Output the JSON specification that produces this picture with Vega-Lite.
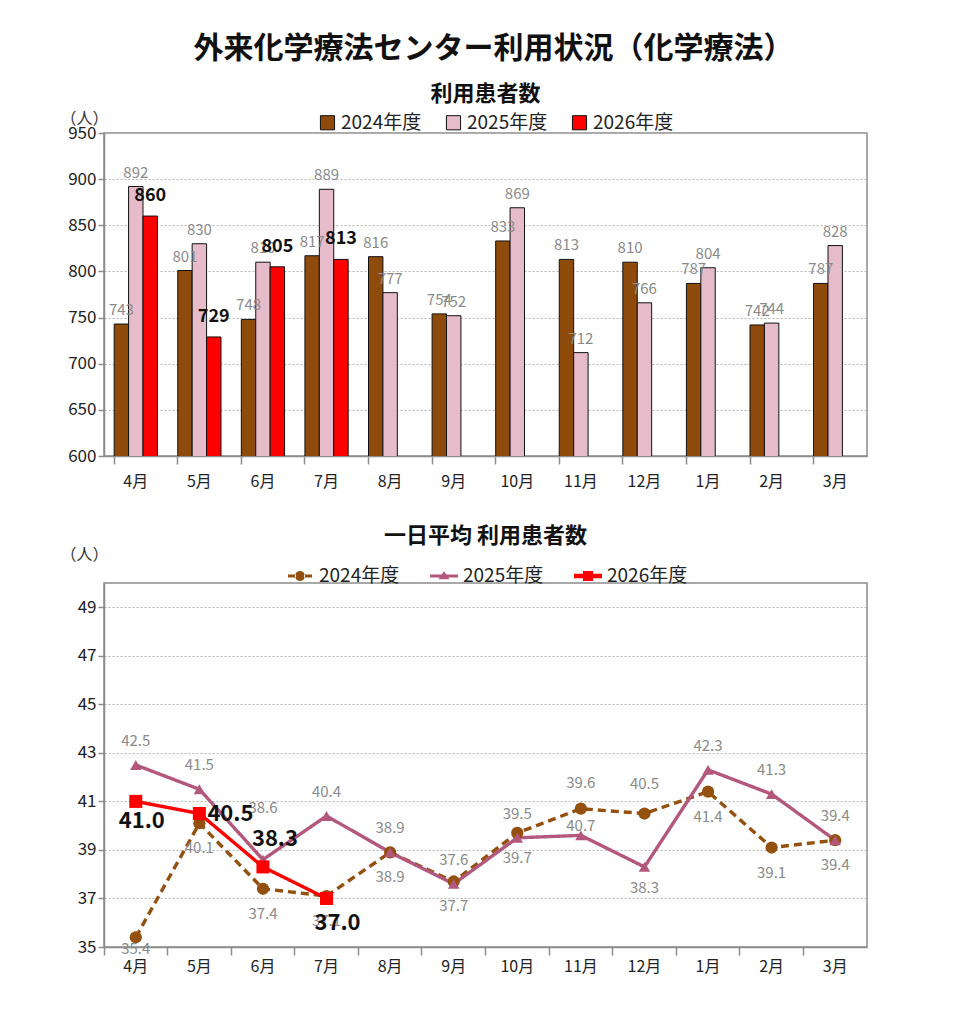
{
  "$schema": "https://vega.github.io/schema/vega-lite/v6.json",
  "background": "white",
  "padding": {"left": 59, "top": 34, "right": 20, "bottom": 10},
  "title": {
    "text": "外来化学療法センター利用状況（化学療法）",
    "fontSize": 30,
    "fontWeight": "bold",
    "color": "#111",
    "anchor": "middle",
    "dx": 30,
    "offset": 18
  },
  "config": {
    "font": "Noto Sans CJK JP",
    "view": {"stroke": "#8c8c8c", "strokeWidth": 1.5},
    "axis": {
      "labelColor": "#222",
      "labelFontSize": 16,
      "domainColor": "#8c8c8c",
      "domainWidth": 1.5,
      "tickColor": "#8c8c8c",
      "tickWidth": 1.5,
      "gridColor": "#b4b4b4",
      "gridDash": [2, 2],
      "gridWidth": 1
    },
    "legend": {"labelFontSize": 19, "labelColor": "#222", "title": null},
    "title": {"fontSize": 22, "fontWeight": "bold", "color": "#111"}
  },
  "resolve": {"scale": {"color": "independent"}, "legend": {"color": "independent"}},
  "datasets": {
    "patients": [
      {"month": "4月", "year": "2024年度", "value": 743},
      {"month": "5月", "year": "2024年度", "value": 801},
      {"month": "6月", "year": "2024年度", "value": 748},
      {"month": "7月", "year": "2024年度", "value": 817},
      {"month": "8月", "year": "2024年度", "value": 816},
      {"month": "9月", "year": "2024年度", "value": 754},
      {"month": "10月", "year": "2024年度", "value": 833},
      {"month": "11月", "year": "2024年度", "value": 813},
      {"month": "12月", "year": "2024年度", "value": 810},
      {"month": "1月", "year": "2024年度", "value": 787},
      {"month": "2月", "year": "2024年度", "value": 742},
      {"month": "3月", "year": "2024年度", "value": 787},
      {"month": "4月", "year": "2025年度", "value": 892},
      {"month": "5月", "year": "2025年度", "value": 830},
      {"month": "6月", "year": "2025年度", "value": 810},
      {"month": "7月", "year": "2025年度", "value": 889},
      {"month": "8月", "year": "2025年度", "value": 777},
      {"month": "9月", "year": "2025年度", "value": 752},
      {"month": "10月", "year": "2025年度", "value": 869},
      {"month": "11月", "year": "2025年度", "value": 712},
      {"month": "12月", "year": "2025年度", "value": 766},
      {"month": "1月", "year": "2025年度", "value": 804},
      {"month": "2月", "year": "2025年度", "value": 744},
      {"month": "3月", "year": "2025年度", "value": 828},
      {"month": "4月", "year": "2026年度", "value": 860},
      {"month": "5月", "year": "2026年度", "value": 729},
      {"month": "6月", "year": "2026年度", "value": 805},
      {"month": "7月", "year": "2026年度", "value": 813}
    ],
    "daily": [
      {"month": "4月", "year": "2024年度", "value": 35.4},
      {"month": "5月", "year": "2024年度", "value": 40.1},
      {"month": "6月", "year": "2024年度", "value": 37.4},
      {"month": "7月", "year": "2024年度", "value": 37.1},
      {"month": "8月", "year": "2024年度", "value": 38.9},
      {"month": "9月", "year": "2024年度", "value": 37.7},
      {"month": "10月", "year": "2024年度", "value": 39.7},
      {"month": "11月", "year": "2024年度", "value": 40.7},
      {"month": "12月", "year": "2024年度", "value": 40.5},
      {"month": "1月", "year": "2024年度", "value": 41.4},
      {"month": "2月", "year": "2024年度", "value": 39.1},
      {"month": "3月", "year": "2024年度", "value": 39.4},
      {"month": "4月", "year": "2025年度", "value": 42.5},
      {"month": "5月", "year": "2025年度", "value": 41.5},
      {"month": "6月", "year": "2025年度", "value": 38.6},
      {"month": "7月", "year": "2025年度", "value": 40.4},
      {"month": "8月", "year": "2025年度", "value": 38.9},
      {"month": "9月", "year": "2025年度", "value": 37.6},
      {"month": "10月", "year": "2025年度", "value": 39.5},
      {"month": "11月", "year": "2025年度", "value": 39.6},
      {"month": "12月", "year": "2025年度", "value": 38.3},
      {"month": "1月", "year": "2025年度", "value": 42.3},
      {"month": "2月", "year": "2025年度", "value": 41.3},
      {"month": "3月", "year": "2025年度", "value": 39.4},
      {"month": "4月", "year": "2026年度", "value": 41.0},
      {"month": "5月", "year": "2026年度", "value": 40.5},
      {"month": "6月", "year": "2026年度", "value": 38.3},
      {"month": "7月", "year": "2026年度", "value": 37.0}
    ]
  },
  "spacing": 34,
  "vconcat": [
    {
      "width": 763,
      "height": 323,
      "title": {"text": "利用患者数", "offset": 4},
      "data": {"name": "patients"},
      "encoding": {
        "x": {
          "field": "month",
          "type": "nominal",
          "sort": ["4月", "5月", "6月", "7月", "8月", "9月", "10月", "11月", "12月", "1月", "2月", "3月"],
          "scale": {"paddingInner": 0.32, "paddingOuter": 0.16},
          "axis": {"title": null, "labelAngle": 0, "bandPosition": 0, "tickSize": 8, "labelPadding": 9, "grid": false}
        },
        "xOffset": {"field": "year", "type": "nominal", "sort": ["2024年度", "2025年度", "2026年度"]},
        "y": {
          "field": "value",
          "type": "quantitative",
          "scale": {"domain": [600, 950], "zero": false},
          "axis": {
            "values": [600, 650, 700, 750, 800, 850, 900, 950],
            "labelFontSize": 17,
            "tickSize": 6,
            "title": "（人）",
            "titleAngle": 0,
            "titleFontWeight": "normal",
            "titleFontSize": 16,
            "titleColor": "#333",
            "titleAlign": "left",
            "titleBaseline": "alphabetic",
            "titleX": -44,
            "titleY": -10
          }
        }
      },
      "layer": [
        {
          "mark": {"type": "bar", "stroke": "#111", "strokeWidth": 1, "clip": true},
          "encoding": {
            "color": {
              "field": "year",
              "type": "nominal",
              "scale": {"domain": ["2024年度", "2025年度", "2026年度"], "range": ["#8E4B0C", "#E6BCCB", "#FF0000"]},
              "legend": {
                "orient": "none",
                "legendX": 214,
                "legendY": -20,
                "direction": "horizontal",
                "symbolType": "square",
                "symbolSize": 200,
                "symbolStrokeColor": "#111",
                "symbolStrokeWidth": 1,
                "columnPadding": 22,
                "labelOffset": 4
              }
            }
          }
        },
        {
          "transform": [{"filter": "datum.year != '2026年度'"}],
          "mark": {"type": "text", "fontSize": 15, "color": "#8a8a8a", "baseline": "middle", "dy": -14},
          "encoding": {"text": {"field": "value", "type": "quantitative"}}
        },
        {
          "transform": [{"filter": "datum.year == '2026年度'"}],
          "mark": {"type": "text", "fontSize": 18, "fontWeight": "bold", "color": "#111", "baseline": "middle", "dy": -20},
          "encoding": {"text": {"field": "value", "type": "quantitative"}}
        }
      ]
    },
    {
      "width": 763,
      "height": 364,
      "title": {"text": "一日平均 利用患者数", "offset": -2},
      "data": {"name": "daily"},
      "encoding": {
        "x": {
          "field": "month",
          "type": "nominal",
          "sort": ["4月", "5月", "6月", "7月", "8月", "9月", "10月", "11月", "12月", "1月", "2月", "3月"],
          "scale": {"type": "band", "paddingInner": 0, "paddingOuter": 0},
          "axis": {"title": null, "labelAngle": 0, "bandPosition": 0, "tickSize": 8, "labelPadding": 3, "grid": false}
        },
        "y": {
          "field": "value",
          "type": "quantitative",
          "scale": {"domain": [35, 50], "zero": false},
          "axis": {
            "values": [35, 37, 39, 41, 43, 45, 47, 49],
            "labelFontSize": 17,
            "tickSize": 6,
            "title": "（人）",
            "titleAngle": 0,
            "titleFontWeight": "normal",
            "titleFontSize": 16,
            "titleColor": "#333",
            "titleAlign": "left",
            "titleBaseline": "alphabetic",
            "titleX": -44,
            "titleY": -24
          }
        },
        "color": {
          "field": "year",
          "type": "nominal",
          "scale": {"domain": ["2024年度", "2025年度", "2026年度"], "range": ["#93500F", "#B3577C", "#FF0000"]},
          "legend": {
            "orient": "none",
            "legendX": 186,
            "legendY": -17,
            "direction": "horizontal",
            "symbolSize": 400,
            "symbolStrokeWidth": 0,
            "columnPadding": 30,
            "labelOffset": 9,
            "encode": {
              "symbols": {
                "update": {
                  "shape": {"signal": "datum.value === '2024年度' ? 'M-1.2,-0.15L-0.4,-0.15L-0.4,0.15L-1.2,0.15Z M0.4,-0.15L1.2,-0.15L1.2,0.15L0.4,0.15Z M-0.5,0A0.5,0.5 0 1,0 0.5,0A0.5,0.5 0 1,0 -0.5,0Z' : datum.value === '2025年度' ? 'M-1.4,-0.15L1.4,-0.15L1.4,0.15L-1.4,0.15Z M0,-0.48L0.55,0.32L-0.55,0.32Z' : 'M-1.4,-0.22L1.4,-0.22L1.4,0.22L-1.4,0.22Z M-0.5,-0.5L0.5,-0.5L0.5,0.5L-0.5,0.5Z'"},
                  "fill": {"signal": "datum.value === '2024年度' ? '#93500F' : datum.value === '2025年度' ? '#B3577C' : '#FF0000'"},
                  "stroke": {"value": "transparent"},
                  "strokeWidth": {"value": 0},
                  "opacity": {"value": 1},
                  "size": {"value": 400}
                }
              }
            }
          }
        }
      },
      "layer": [
        {
          "mark": {"type": "line", "strokeWidth": 3.4},
          "encoding": {
            "strokeDash": {
              "field": "year",
              "type": "nominal",
              "scale": {"domain": ["2024年度", "2025年度", "2026年度"], "range": [[8, 5], [1, 0], [1, 0]]},
              "legend": null
            }
          }
        },
        {
          "transform": [{"filter": "datum.year == '2024年度'"}],
          "mark": {"type": "point", "filled": true, "opacity": 1, "size": 150, "shape": "circle"}
        },
        {
          "transform": [{"filter": "datum.year == '2025年度'"}],
          "mark": {"type": "point", "filled": true, "opacity": 1, "size": 130, "shape": "triangle-up"}
        },
        {
          "transform": [{"filter": "datum.year == '2026年度'"}],
          "mark": {"type": "point", "filled": true, "opacity": 1, "size": 170, "shape": "square"}
        },
        {
          "transform": [{"filter": "datum.year == '2024年度' && indexof(['4月', '11月', '12月'], datum.month) < 0"}],
          "mark": {"type": "text", "fontSize": 15, "baseline": "middle", "dy": 25},
          "encoding": {"text": {"field": "value", "type": "quantitative", "format": ".1f"}, "color": {"value": "#8a8a8a"}}
        },
        {
          "transform": [{"filter": "datum.year == '2024年度' && datum.month == '4月'"}],
          "mark": {"type": "text", "fontSize": 15, "baseline": "middle", "dy": 12},
          "encoding": {"text": {"field": "value", "type": "quantitative", "format": ".1f"}, "color": {"value": "#8a8a8a"}}
        },
        {
          "transform": [{"filter": "datum.year == '2024年度' && datum.month == '11月'"}],
          "mark": {"type": "text", "fontSize": 15, "baseline": "middle", "dy": 17},
          "encoding": {"text": {"field": "value", "type": "quantitative", "format": ".1f"}, "color": {"value": "#8a8a8a"}}
        },
        {
          "transform": [{"filter": "datum.year == '2024年度' && datum.month == '12月'"}],
          "mark": {"type": "text", "fontSize": 15, "baseline": "middle", "dy": -30},
          "encoding": {"text": {"field": "value", "type": "quantitative", "format": ".1f"}, "color": {"value": "#8a8a8a"}}
        },
        {
          "transform": [{"filter": "datum.year == '2025年度' && indexof(['6月', '11月', '12月'], datum.month) < 0"}],
          "mark": {"type": "text", "fontSize": 15, "baseline": "middle", "dy": -24},
          "encoding": {"text": {"field": "value", "type": "quantitative", "format": ".1f"}, "color": {"value": "#8a8a8a"}}
        },
        {
          "transform": [{"filter": "datum.year == '2025年度' && (datum.month == '6月' || datum.month == '11月')"}],
          "mark": {"type": "text", "fontSize": 15, "baseline": "middle", "dy": -52},
          "encoding": {"text": {"field": "value", "type": "quantitative", "format": ".1f"}, "color": {"value": "#8a8a8a"}}
        },
        {
          "transform": [{"filter": "datum.year == '2025年度' && datum.month == '12月'"}],
          "mark": {"type": "text", "fontSize": 15, "baseline": "middle", "dy": 21},
          "encoding": {"text": {"field": "value", "type": "quantitative", "format": ".1f"}, "color": {"value": "#8a8a8a"}}
        },
        {
          "transform": [{"filter": "datum.year == '2026年度' && datum.month == '4月'"}],
          "mark": {"type": "text", "fontSize": 22, "fontWeight": "bold", "baseline": "middle", "dx": 6, "dy": 20},
          "encoding": {"text": {"field": "value", "type": "quantitative", "format": ".1f"}, "color": {"value": "#111"}}
        },
        {
          "transform": [{"filter": "datum.year == '2026年度' && datum.month == '7月'"}],
          "mark": {"type": "text", "fontSize": 22, "fontWeight": "bold", "baseline": "middle", "dx": 11, "dy": 25},
          "encoding": {"text": {"field": "value", "type": "quantitative", "format": ".1f"}, "color": {"value": "#111"}}
        },
        {
          "transform": [{"filter": "datum.year == '2026年度' && datum.month == '5月'"}],
          "mark": {"type": "text", "fontSize": 22, "fontWeight": "bold", "baseline": "middle", "align": "left", "dx": 8, "dy": 0},
          "encoding": {"text": {"field": "value", "type": "quantitative", "format": ".1f"}, "color": {"value": "#111"}}
        },
        {
          "transform": [{"filter": "datum.year == '2026年度' && datum.month == '6月'"}],
          "mark": {"type": "text", "fontSize": 22, "fontWeight": "bold", "baseline": "middle", "dx": 12, "dy": -28},
          "encoding": {"text": {"field": "value", "type": "quantitative", "format": ".1f"}, "color": {"value": "#111"}}
        }
      ]
    }
  ]
}
